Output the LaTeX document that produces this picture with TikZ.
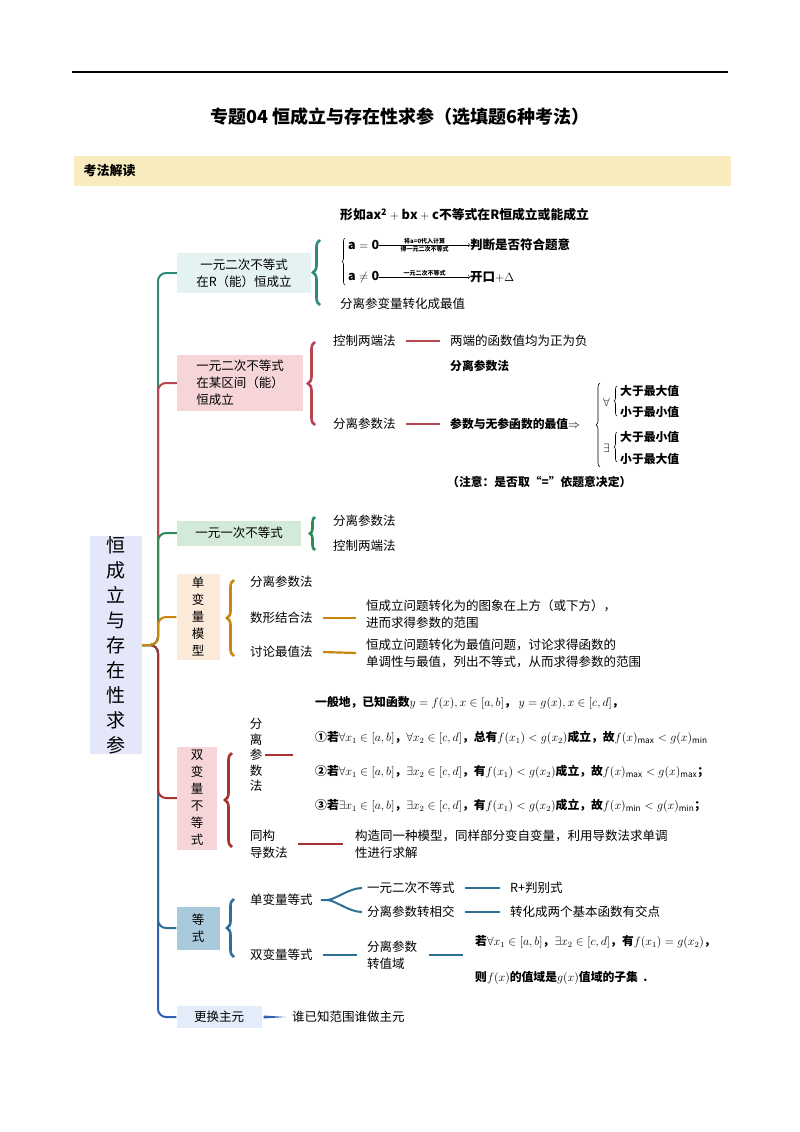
\documentclass[tikz,border=0pt]{standalone}
\usepackage{fontspec}
\setmainfont{Noto Sans CJK SC}
\usetikzlibrary{decorations.pathreplacing,calc}
\definecolor{cA}{HTML}{2E8B7A}\definecolor{cB}{HTML}{B5454F}\definecolor{cC}{HTML}{2E8B57}
\definecolor{cD}{HTML}{C8860A}\definecolor{cE}{HTML}{A83232}\definecolor{cF}{HTML}{2F6F95}
\definecolor{cG}{HTML}{3060B0}
\tikzset{
 br/.style={anchor=center,inner sep=0pt,font=\fontsize{12.5}{17}\selectfont,align=center},
 tx/.style={anchor=west,inner sep=0pt,font=\fontsize{12.5}{17}\selectfont,align=left},
 fm/.style={anchor=west,inner sep=0pt,font=\fontsize{11.8}{14}\selectfont\bfseries},
 sm/.style={anchor=center,inner sep=0pt,font=\fontsize{6}{7}\selectfont\bfseries},
 lk/.style={line width=2.2pt},
 brc/.style={decorate,decoration={brace,amplitude=7pt},line width=2.6pt},
 trunk/.style={line width=2pt,rounded corners=8pt}
}
\begin{document}
\begin{tikzpicture}[x=1pt,y=-1pt]
\useasboundingbox (0,0) rectangle (800,1132);
\draw[line width=1.2pt] (72,72) -- (728,72);
\node[font=\fontsize{18}{22}\selectfont\bfseries] (title) at (400,117) {专题04\ 恒成立与存在性求参（选填题6种考法）};
\fill[fill={rgb,255:red,248;green,236;blue,190}] (74,156) rectangle (731,186);
\node[anchor=west,font=\fontsize{13}{16}\selectfont\bfseries] (ban) at (80,171) {考法解读};
% root
\node[fill={rgb,255:red,228;green,231;blue,249},minimum width=52pt,minimum height=205pt,inner sep=0pt,align=center,font=\fontsize{19}{25}\selectfont] (root) at (116,645) {恒\\成\\立\\与\\存\\在\\性\\求\\参};
% branches
\node[fill={rgb,255:red,228;green,242;blue,241},minimum width=134pt,minimum height=40pt,br] (b1) at (244,273) {一元二次不等式\\在R（能）恒成立};
\node[fill={rgb,255:red,246;green,213;blue,216},minimum width=126pt,minimum height=56pt,br,align=left] (b2) at (240,383) {一元二次不等式\\在某区间（能）\\恒成立};
\node[fill={rgb,255:red,211;green,234;blue,217},minimum width=124pt,minimum height=25pt,br] (b3) at (239,533) {一元一次不等式};
\node[fill={rgb,255:red,251;green,233;blue,218},minimum width=43pt,minimum height=86pt,br] (b4) at (198,617) {单\\变\\量\\模\\型};
\node[fill={rgb,255:red,246;green,213;blue,216},minimum width=40pt,minimum height=103pt,br] (b5) at (197,798) {双\\变\\量\\不\\等\\式};
\node[fill={rgb,255:red,169;green,202;blue,218},minimum width=43pt,minimum height=43pt,br] (b6) at (198,928) {等\\式};
\node[fill={rgb,255:red,227;green,236;blue,249},minimum width=85pt,minimum height=22pt,br] (b7) at (219,1017) {更换主元};
% trunk
\draw[trunk,cG] (root.east) -- (158,645) |- (b7.west);
\draw[trunk,cF] (root.east) -- (158,645) |- (b6.west);
\draw[trunk,cE] (root.east) -- (158,645) |- (b5.west);
\draw[trunk,cA] (root.east) -- (158,645) |- (b1.west);
\draw[trunk,cB] (root.east) -- (158,645) |- (b2.west);
\draw[trunk,cC] (root.east) -- (158,645) |- (b3.west);
\draw[trunk,cD] (root.east) -- (158,645) |- (b4.west);
% ---- branch 1
\draw[brc,cA] (320,305) -- (320,240);
\node[fm,font=\fontsize{12.8}{14}\selectfont\bfseries] (h1) at (340,215) {形如$\mathbf{ax^2+bx+c}$不等式在R恒成立或能成立};
\draw[decorate,decoration={brace,amplitude=3pt},line width=0.6pt] (345,285) -- (345,238);
\node[fm,font=\fontsize{12.5}{14}\selectfont\bfseries] (a0) at (348,245) {$\mathbf{a=0}$};
\node[fm,font=\fontsize{12.5}{14}\selectfont\bfseries] (j1) at (470,245) {判断是否符合题意};
\draw[->,line width=0.5pt] (a0.east) -- (j1.west) node[sm,midway,above=1pt] {将a=0代入计算} node[sm,midway,below=1.5pt] {得一元二次不等式};
\node[fm,font=\fontsize{12.5}{14}\selectfont\bfseries] (a1) at (348,277) {$\mathbf{a\neq 0}$};
\node[fm,font=\fontsize{12.5}{14}\selectfont\bfseries] (j2) at (470,277) {开口$+\Delta$};
\draw[->,line width=0.5pt] (a1.east) -- (j2.west) node[sm,midway,above=1pt] {一元二次不等式};
\node[tx] (f1) at (340,304) {分离参变量转化成最值};
% ---- branch 2
\draw[brc,cB] (315,425) -- (315,342);
\node[tx] (k1) at (333,341) {控制两端法};
\node[tx] (k1r) at (450,341) {两端的函数值均为正为负};
\draw[lk,cB] ($(k1.east)+(10,0)$) -- ($(k1r.west)+(-10,0)$);
\node[fm] (k2n) at (450,366) {分离参数法};
\node[tx] (k2) at (333,424) {分离参数法};
\node[fm] (k2r) at (450,424) {参数与无参函数的最值$\Rightarrow$};
\draw[lk,cB] ($(k2.east)+(10,0)$) -- ($(k2r.west)+(-10,0)$);
\draw[decorate,decoration={brace,amplitude=4pt},line width=0.6pt] (600,467) -- (600,383);
\node[fm] (fa) at (603,402) {$\forall$};
\draw[decorate,decoration={brace,amplitude=3pt},line width=0.6pt] (617,416) -- (617,386);
\node[fm] (fa1) at (620,391) {大于最大值};
\node[fm] (fa2) at (620,412) {小于最小值};
\node[fm] (ex) at (603,448) {$\exists$};
\draw[decorate,decoration={brace,amplitude=3pt},line width=0.6pt] (617,462) -- (617,432);
\node[fm] (ex1) at (620,437) {大于最小值};
\node[fm] (ex2) at (620,459) {小于最大值};
\node[fm] (nt) at (447,482) {（注意：是否取“=”依题意决定）};
% ---- branch 3
\draw[brc,cC,decoration={amplitude=5pt}] (315,550) -- (315,517);
\node[tx] (c1) at (333,521) {分离参数法};
\node[tx] (c2) at (333,546) {控制两端法};
% ---- branch 4
\draw[brc,cD] (234,656) -- (234,580);
\node[tx] (d1) at (250,582) {分离参数法};
\node[tx] (d2) at (250,618) {数形结合法};
\node[tx] (d2r) at (366,614) {恒成立问题转化为的图象在上方（或下方），\\进而求得参数的范围};
\draw[lk,cD] ($(d2.east)+(10,0)$) -- ($(d2r.west)+(-10,4)$);
\node[tx] (d3) at (250,652) {讨论最值法};
\node[tx] (d3r) at (366,653) {恒成立问题转化为最值问题，讨论求得函数的\\单调性与最值，列出不等式，从而求得参数的范围};
\draw[lk,cD] ($(d3.east)+(10,0)$) -- ($(d3r.west)+(-10,0)$);
% ---- branch 5
\draw[brc,cE] (232,847) -- (232,753);
\node[br,align=center,font=\fontsize{12.5}{15.5}\selectfont] (e1) at (256,755) {分\\离\\参\\数\\法};
\node[fm] (g0) at (315,703) {一般地，已知函数$y=f(x),x\in[a,b]$，\ $y=g(x),x\in[c,d]$，};
\node[fm] (g1) at (315,738) {①若$\forall x_1\in[a,b]$，$\forall x_2\in[c,d]$，总有$f(x_1)<g(x_2)$成立，故$f(x)_{\max}<g(x)_{\min}$};
\node[fm] (g2) at (315,772) {②若$\forall x_1\in[a,b]$，$\exists x_2\in[c,d]$，有$f(x_1)<g(x_2)$成立，故$f(x)_{\max}<g(x)_{\max}$；};
\node[fm] (g3) at (315,806) {③若$\exists x_1\in[a,b]$，$\exists x_2\in[c,d]$，有$f(x_1)<g(x_2)$成立，故$f(x)_{\min}<g(x)_{\min}$；};
\draw[lk,cE] ($(e1.east)+(3,0)$) -- ($(g2.west)+(-22,-17)$);
\node[tx] (e2) at (250,844) {同构\\导数法};
\node[tx] (e2r) at (355,844) {构造同一种模型，同样部分变自变量，利用导数法求单调\\性进行求解};
\draw[lk,cE] ($(e2.east)+(10,0)$) -- ($(e2r.west)+(-12,0)$);
% ---- branch 6
\draw[brc,cF] (234,957) -- (234,899);
\node[tx] (s1) at (250,900) {单变量等式};
\node[tx] (s1a) at (367,888) {一元二次不等式};
\node[tx] (s1b) at (367,912) {分离参数转相交};
\coordinate (fk) at ($(s1.east)+(14,0)$);
\draw[line width=2pt,cF] ($(s1.east)+(8,0)$) -- (fk) .. controls ($(fk)+(8,0)$) and ($(s1a.west)+(-18,0)$) .. ($(s1a.west)+(-5,0)$);
\draw[line width=2pt,cF] (fk) .. controls ($(fk)+(8,0)$) and ($(s1b.west)+(-18,0)$) .. ($(s1b.west)+(-5,0)$);
\node[tx] (s1ar) at (510,888) {R+判别式};
\node[tx] (s1br) at (510,912) {转化成两个基本函数有交点};
\draw[lk,cF] ($(s1a.east)+(10,0)$) -- ($(s1ar.west)+(-10,0)$);
\draw[lk,cF] ($(s1b.east)+(10,0)$) -- ($(s1br.west)+(-10,0)$);
\node[tx] (s2) at (250,955) {双变量等式};
\node[tx] (s2a) at (367,955) {分离参数\\转值域};
\draw[lk,cF] ($(s2.east)+(10,0)$) -- ($(s2a.west)+(-10,0)$);
\node[fm] (s2r1) at (475,942) {若$\forall x_1\in[a,b]$，$\exists x_2\in[c,d]$，有$f(x_1)=g(x_2)$，};
\node[fm] (s2r2) at (475,978) {则$f(x)$的值域是$g(x)$值域的子集\ \ .};
\draw[lk,cF] ($(s2a.east)+(12,0)$) -- ($(s2r1.west)+(-12,13)$);
% ---- branch 7
\node[tx] (t1) at (292,1017) {谁已知范围谁做主元};
\fill[cG] ($(b7.east)+(2,-1.5)$) -- ++(0,3) -- ($(t1.west)+(-6,0)$) -- cycle;
\end{tikzpicture}
\end{document}
